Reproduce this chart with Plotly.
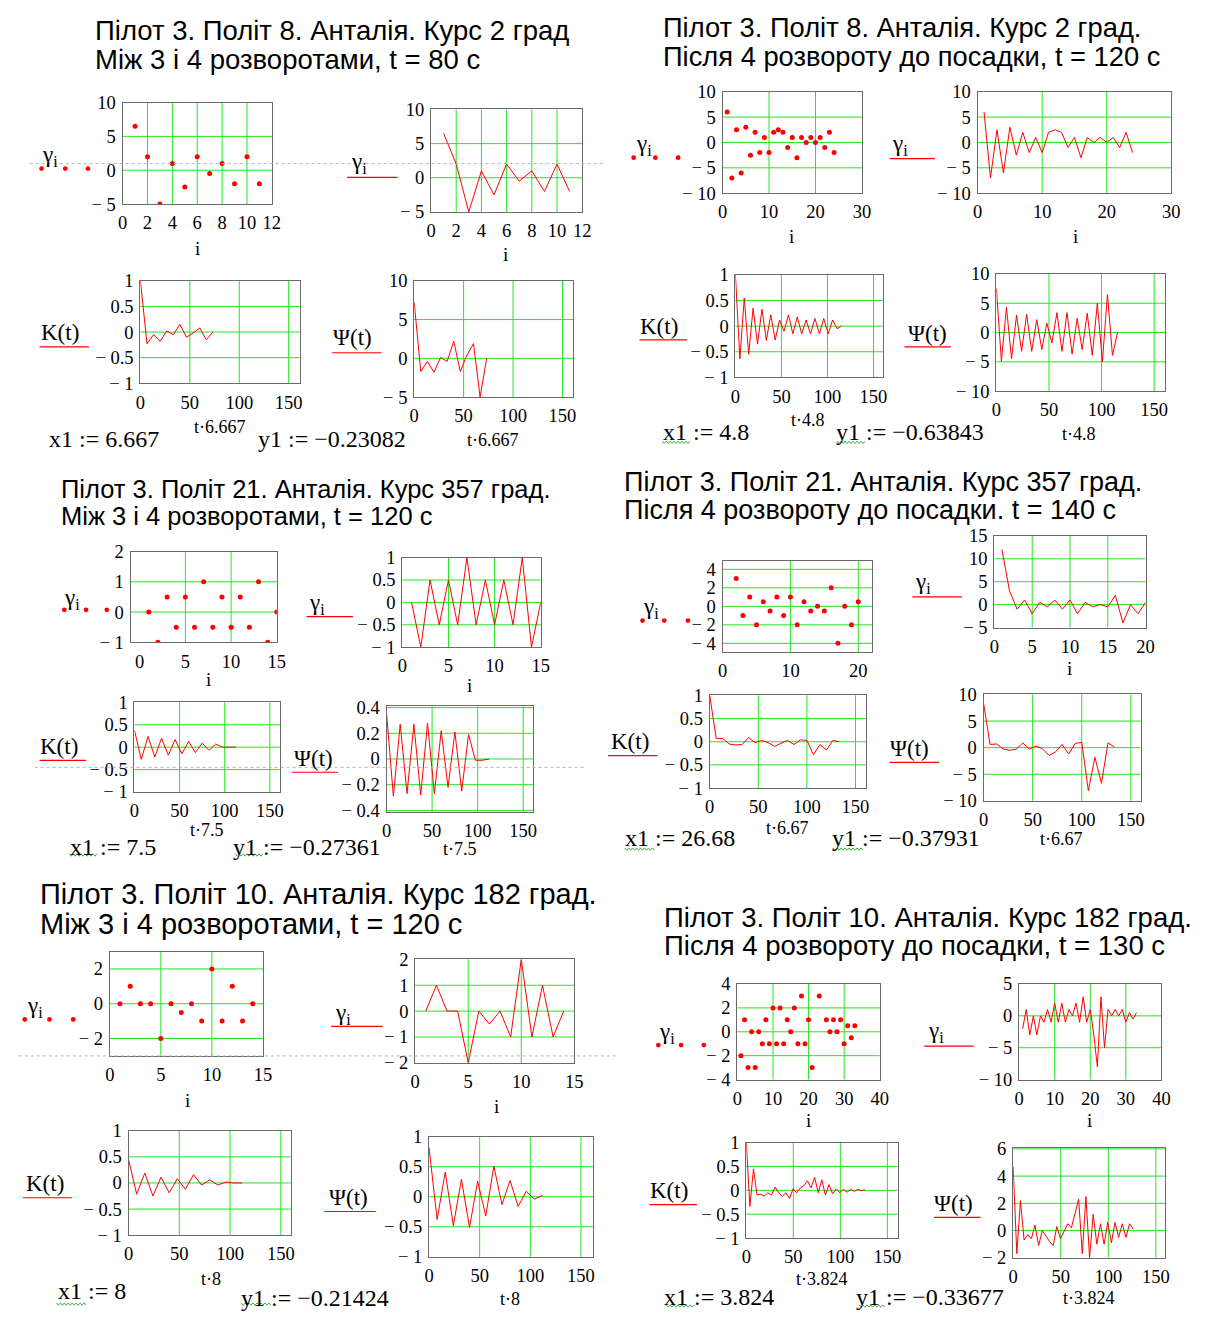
import plotly.graph_objects as go

# ---------------- values ----------------
# Flight 8, course 2 deg, between turns 3 and 4 (t = 80 s)
g_f8a = [6.5, 2, -5, 1, -2.5, 2, -0.5, 1, -2, 2, -2]
k_f8a = [1, -0.23082, -0.05, -0.18, 0.02, -0.05, 0.15, -0.1, -0.02, 0.08, -0.15, 0.0]
psi_f8a = [7.2, -1.7, -0.4, -1.8, 0.1, -0.4, 2.2, -1.7, 0.4, 1.9, -5.0, 0.0]

# Flight 8, course 2 deg, after turn 4 to landing (t = 120 s)
g_f8b = [6, -7, 2.5, -6, 3, -2.5, 2, -2, 1, -2, 2, 2.5, 2, -1, 1, -3, 1, 0, 1, 0, 1, -1, 2, -2]
k_f8b = [1, -0.63843, 0.55, -0.55, 0.35, -0.35, 0.33, -0.28, 0.22, -0.27, 0.12, -0.1, 0.22,
         -0.15, 0.18, -0.15, 0.12, -0.15, 0.15, -0.15, 0.15, -0.15, 0.12, -0.05, 0.0]
psi_f8b = [7.5, -4.9, 4.3, -4.5, 3, -3.2, 3.1, -3.2, 2.2, -2.9, 1.6, -1.8, 3.4, -3.2, 3.4,
           -3.7, 2.4, -2.9, 3.3, -3.9, 5, -5, 6.5, -3.9, 0]

# Flight 21, course 357 deg, between turns 3 and 4 (t = 120 s)
g_f21a = [0, -1, 0.5, -0.5, 0.5, -0.5, 1, -0.5, 0.5, -0.5, 0.5, -0.5, 1, -1, 0]
k_f21a = [0.38, -0.27361, 0.24, -0.22, 0.2, -0.18, 0.17, -0.15, 0.13, -0.12, 0.09, -0.07,
          0.07, 0.0, 0.0, 0.0]
psi_f21a = [0.36, -0.29, 0.27, -0.27, 0.27, -0.28, 0.28, -0.27, 0.22, -0.22, 0.21, -0.25,
            0.19, -0.01, -0.01, 0.0]

# Flight 21, course 357 deg, after turn 4 to landing (t = 140 s)
g_f21b = [12, 3, -1, 1, -2, 0.5, -0.5, 1, -1, 1, -2, 0.5, -0.5, 0, -0.5, 2, -4, 0, -2, 0.5]
k_f21b = [1, 0.07, 0.07, -0.05, -0.07, -0.06, 0.09, -0.02, 0.03, -0.02, -0.1, -0.04, 0.03,
          -0.06, 0.04, 0.03, -0.28, -0.06, -0.18, 0.03, 0.0]
psi_f21b = [8.4, 0.6, 0.7, -0.25, -0.5, -0.3, 0.9, -0.25, 0.3, -0.2, -1.45, -0.8, 0.6, -1.2,
            0.8, 1.0, -8.1, -1.8, -6.7, 0.9, 0.1]

# Flight 10, course 182 deg, between turns 3 and 4 (t = 120 s)
g_f10a = [0, 1, 0, 0, -2, 0, -0.5, 0, -1, 2, -1, 1, -1, 0]
k_f10a = [0.45, -0.21424, 0.19, -0.25, 0.11, -0.19, 0.08, -0.12, 0.16, -0.04, 0.06, -0.04,
          0.02, 0.0, 0.0]
psi_f10a = [0.82, -0.38, 0.41, -0.48, 0.29, -0.51, 0.26, -0.32, 0.51, -0.13, 0.27, -0.16,
            0.09, -0.04, 0.02]

# Flight 10, course 182 deg, after turn 4 to landing (t = 130 s)
g_f10b = [-2, 1, -3, 0, -3, 0, -1, 1, -1, 2, -1, 2, -1, 1, 0, 2, -1, 3, -1, 1, -3, -8, 3, -5,
          1, 0, 1, 0, 1, -1, 0.5, -0.5, 0.5]
k_f10b = [1, -0.33677, 0.45, -0.1, -0.08, -0.12, -0.05, -0.1, 0.07, -0.05, -0.13, -0.05, -0.17,
          0.03, -0.05, 0.05, 0.1, 0.2, 0.05, 0.27, -0.05, 0.22, -0.1, 0.12, -0.07, 0.03, -0.05,
          0.02, -0.04, 0.02, -0.02, 0.02, -0.01, 0.01]
psi_f10b = [4.7, -1.7, 2.2, -0.7, -0.3, -0.6, 0.4, -1.1, 0.0, -0.4, -0.8, -1.1, 0.3, -0.6, 0.0,
            0.5, 0.2, 1.2, 2.3, -1.7, 2.5, -2.0, 1.2, -1.0, 0.5, -1.0, 0.6, -0.9, 0.6, -0.5,
            0.5, -0.5, 0.5, 0.1]

# time steps (s) and the x1 / y1 readouts
dt_vals = [6.667, 4.8, 7.5, 6.67, 8, 3.824]
dt_text = ["6.667", "4.8", "7.5", "6.67", "8", "3.824"]
x1_text = ["6.667", "4.8", "7.5", "26.68", "8", "3.824"]
y1_text = ["\u22120.23082", "\u22120.63843", "\u22120.27361", "\u22120.37931", "\u22120.21424",
           "\u22120.33677"]

titles = [
    ("Пілот 3. Політ 8. Анталія. Курс 2 град", "Між 3 і 4 розворотами, t = 80 с"),
    ("Пілот 3. Політ 8. Анталія. Курс 2 град.", "Після 4 розвороту до посадки, t = 120 с"),
    ("Пілот 3. Політ 21. Анталія. Курс 357 град.", "Між 3 і 4 розворотами, t = 120 с"),
    ("Пілот 3. Політ 21. Анталія. Курс 357 град.", "Після 4 розвороту до посадки. t = 140 с"),
    ("Пілот 3. Політ 10. Анталія. Курс 182 град.", "Між 3 і 4 розворотами, t = 120 с"),
    ("Пілот 3. Політ 10. Анталія. Курс 182 град.", "Після 4 розвороту до посадки, t = 130 с"),
]
series = [
    (g_f8a, k_f8a, psi_f8a), (g_f8b, k_f8b, psi_f8b),
    (g_f21a, k_f21a, psi_f21a), (g_f21b, k_f21b, psi_f21b),
    (g_f10a, k_f10a, psi_f10a), (g_f10b, k_f10b, psi_f10b),
]

# ---------------- page geometry (pixels) ----------------
W, H = 1207, 1320
GRID = "#22e622"
FRAME = "#6b6b6b"
RED = "#ff0000"
SERIF = "Liberation Serif"
SANS = "Liberation Sans"
TICK = 18.5
LBL = 23

T150 = [0, 50, 100, 150]
K_Y = [-1, -0.5, 0, 0.5, 1]

# per segment: title pos/size, four plot frames with ranges, legend/label spots
geo = [
    dict(title=(90, 21, 50, 27.5),
         a=dict(box=(119, 270, 94, 197), xr=[0, 12], xt=[0, 2, 4, 6, 8, 10, 12], yr=[-5, 10], yt=[-5, 0, 5, 10]),
         b=dict(box=(431, 584, 101, 205), xr=[0, 12], xt=[0, 2, 4, 6, 8, 10, 12], yr=[-5, 10], yt=[-5, 0, 5, 10]),
         c=dict(box=(137, 298, 275, 379), xr=[0, 161], xt=T150, yr=[-1, 1], yt=K_Y),
         d=dict(box=(414, 575, 275, 393), xr=[0, 161], xt=T150, yr=[-5, 10], yt=[-5, 0, 5, 10]),
         gl_a=(46, 148, 161, [37, 61, 84]), gl_b=(358, 155, 170, 346, 397),
         i_a=(195, 242), i_b=(506, 248),
         kl=(56, 327, 342, 35, 85), pl=(352, 333, 348, 331, 381),
         tc=(218, 423), td=(494, 437),
         x1=(43, 436), y1=(255, 436), squig=None),
    dict(title=(665, 18, 47, 27.3),
         a=dict(box=(726, 867, 83, 186), xr=[0, 30], xt=[0, 10, 20, 30], yr=[-10, 10], yt=[-10, -5, 0, 5, 10]),
         b=dict(box=(984, 1180, 83, 186), xr=[0, 30], xt=[0, 10, 20, 30], yr=[-10, 10], yt=[-10, -5, 0, 5, 10]),
         c=dict(box=(739, 888, 269, 373), xr=[0, 160], xt=T150, yr=[-1, 1], yt=K_Y),
         d=dict(box=(1003, 1174, 268, 387), xr=[0, 160.7], xt=T150, yr=[-10, 10], yt=[-10, -5, 0, 5, 10]),
         gl_a=(646, 137, 150, [636, 658, 681]), gl_b=(905, 137, 151, 895, 941),
         i_a=(796, 230), i_b=(1083, 230),
         kl=(662, 321, 335, 642, 690), pl=(933, 328, 342, 910, 957),
         tc=(812, 416), td=(1087, 431),
         x1=(665, 428), y1=(840, 428), squig=((665, 693), (842, 870), 439)),
    dict(title=(56, 486, 514, 25.5),
         a=dict(box=(127, 275, 550, 642), xr=[-1, 15], xt=[0, 5, 10, 15], xg=[5, 10], yr=[-1, 2], yt=[-1, 0, 1, 2]),
         b=dict(box=(402, 542, 556, 647), xr=[0, 15], xt=[0, 5, 10, 15], yr=[-1, 1], yt=K_Y),
         c=dict(box=(131, 278, 703, 794), xr=[0, 161], xt=T150, yr=[-1, 1], yt=K_Y),
         d=dict(box=(386, 534, 707, 814), xr=[0, 160.5], xt=T150, yr=[-0.41, 0.41], yt=[-0.4, -0.2, 0, 0.2, 0.4]),
         gl_a=(68, 598, 609, [60, 82, 103]), gl_b=(316, 603, 616, 305, 352),
         i_a=(206, 680), i_b=(470, 686),
         kl=(55, 748, 762, 35, 82), pl=(312, 760, 774, 290, 337),
         tc=(204, 833), td=(460, 852),
         x1=(65, 850), y1=(230, 850), squig=((65, 94), (233, 262), 858)),
    dict(title=(625, 479, 508, 27),
         a=dict(box=(726, 877, 559, 652), xr=[0, 22], xt=[0, 10, 20], yr=[-4.95, 4.95], yt=[-4, -2, 0, 2, 4]),
         b=dict(box=(1001, 1154, 534, 627), xr=[0, 20], xt=[0, 5, 10, 15, 20], yr=[-5, 15], yt=[-5, 0, 5, 10, 15]),
         c=dict(box=(713, 871, 696, 790), xr=[0, 160.7], xt=T150, yr=[-1, 1], yt=K_Y),
         d=dict(box=(990, 1149, 695, 803), xr=[0, 160], xt=T150, yr=[-10, 10], yt=[-10, -5, 0, 5, 10]),
         gl_a=(654, 607, 620, [645, 667, 691]), gl_b=(929, 582, 596, 918, 968),
         i_a=None, i_b=(1077, 669),
         kl=(632, 743, 757, 610, 660), pl=(915, 750, 764, 895, 945),
         tc=(792, 831), td=(1069, 842),
         x1=(626, 841), y1=(836, 841), squig=((627, 658), (838, 868), 852)),
    dict(title=(34, 898, 928, 29),
         a=dict(box=(106, 261, 956, 1062), xr=[0, 15], xt=[0, 5, 10, 15], yr=[-3, 3], yt=[-2, 0, 2]),
         b=dict(box=(415, 576, 964, 1069), xr=[0, 15], xt=[0, 5, 10, 15], yr=[-2, 2], yt=[-2, -1, 0, 1, 2]),
         c=dict(box=(125, 289, 1138, 1244), xr=[0, 159.7], xt=T150, yr=[-1, 1], yt=K_Y),
         d=dict(box=(429, 595, 1144, 1266), xr=[0, 162], xt=T150, yr=[-1, 1], yt=K_Y),
         gl_a=(30, 1012, 1025, [20, 45, 69]), gl_b=(342, 1019, 1032, 330, 382),
         i_a=(185, 1107), i_b=(497, 1113),
         kl=(40, 1192, 1206, 18, 68), pl=(348, 1206, 1220, 323, 375),
         tc=(208, 1289), td=(511, 1309),
         x1=(53, 1301), y1=(238, 1308), squig=((52, 83), (239, 270), 1314)),
    dict(title=(666, 921, 950, 27.5),
         a=dict(box=(741, 885, 989, 1086), xr=[0, 40], xt=[0, 10, 20, 30, 40], yr=[-4, 4], yt=[-4, -2, 0, 2, 4]),
         b=dict(box=(1026, 1170, 989, 1086), xr=[0, 40], xt=[0, 10, 20, 30, 40], yr=[-10, 5], yt=[-10, -5, 0, 5]),
         c=dict(box=(750, 903, 1150, 1247), xr=[0, 160.8], xt=T150, yr=[-1, 1], yt=K_Y),
         d=dict(box=(1020, 1174, 1155, 1267), xr=[0, 160], xt=T150, yr=[-2, 6.1], yt=[-2, 0, 2, 4, 6]),
         gl_a=(670, 1039, 1051, [661, 684, 707]), gl_b=(942, 1038, 1052, 930, 980),
         i_a=(813, 1128), i_b=(1097, 1128),
         kl=(672, 1199, 1213, 652, 700), pl=(960, 1212, 1226, 940, 987),
         tc=(827, 1289), td=(1097, 1308),
         x1=(666, 1307), y1=(860, 1307), squig=((669, 697), (864, 891), 1316)),
]

separators = [(25, 605, 156), (30, 587, 769), (14, 620, 1062)]


def px(x):
    return x / W


def py(y):
    return 1 - y / H


def tick_text(v):
    s = f"{abs(v):g}"
    return "\u2212 " + s if v < 0 else s


fig = go.Figure()
layout = {}
shapes = []
annotations = []
counter = [0]


def add_plot(spec, xs, ys, mode):
    counter[0] += 1
    n = counter[0]
    sfx = "" if n == 1 else str(n)
    x0, x1, ytop, ybot = spec["box"]
    xr, yr, xt, yt = spec["xr"], spec["yr"], spec["xt"], spec["yt"]
    xg = spec.get("xg", [v for v in xt if xr[0] < v < xr[1]])
    yg = [v for v in yt if yr[0] < v < yr[1]]
    common = dict(showgrid=False, zeroline=False, showline=True, mirror=True,
                  linecolor=FRAME, linewidth=1.2, ticks="", tickmode="array",
                  tickfont=dict(family=SERIF, size=TICK, color="black"),
                  ticklabelstandoff=2, fixedrange=True)
    layout["xaxis" + sfx] = dict(common, domain=[px(x0), px(x1)], range=xr, anchor="y" + sfx,
                                 tickvals=xt, ticktext=[tick_text(v) for v in xt])
    layout["yaxis" + sfx] = dict(common, domain=[py(ybot), py(ytop)], range=yr, anchor="x" + sfx,
                                 tickvals=yt, ticktext=[tick_text(v) for v in yt])
    for v in xg:
        shapes.append(dict(type="line", xref="x" + sfx, yref="y" + sfx + " domain",
                           x0=v, x1=v, y0=0, y1=1, layer="below",
                           line=dict(color=GRID, width=1)))
    for v in yg:
        shapes.append(dict(type="line", xref="x" + sfx + " domain", yref="y" + sfx,
                           x0=0, x1=1, y0=v, y1=v, layer="below",
                           line=dict(color=GRID, width=1)))
    if mode == "markers":
        fig.add_trace(go.Scatter(x=xs, y=ys, mode="markers", xaxis="x" + sfx, yaxis="y" + sfx,
                                 marker=dict(color=RED, size=5), showlegend=False, hoverinfo="skip"))
    else:
        fig.add_trace(go.Scatter(x=xs, y=ys, mode="lines", xaxis="x" + sfx, yaxis="y" + sfx,
                                 line=dict(color=RED, width=1), showlegend=False, hoverinfo="skip"))


def text(x, y, s, size, family=SERIF, xanchor="center"):
    annotations.append(dict(x=px(x), y=py(y), xref="paper", yref="paper", text=s,
                            showarrow=False, xanchor=xanchor, yanchor="middle", borderpad=0,
                            font=dict(family=family, size=size, color="black")))


def red_rule(y, xa, xb):
    shapes.append(dict(type="line", xref="paper", yref="paper", x0=px(xa), x1=px(xb),
                       y0=py(y), y1=py(y), line=dict(color=RED, width=1.2)))


def dot(cx, cy, r=2.4):
    shapes.append(dict(type="circle", xref="paper", yref="paper", x0=px(cx - r), x1=px(cx + r),
                       y0=py(cy + r), y1=py(cy - r), fillcolor=RED, line=dict(width=0)))


def squiggle(xa, xb, y):
    pts = []
    x, up = xa, True
    while x <= xb:
        pts.append(f"{px(x):.5f},{py(y - 1.2 if up else y + 1.2):.5f}")
        x += 2
        up = not up
    shapes.append(dict(type="path", xref="paper", yref="paper", path="M" + " L".join(pts),
                       line=dict(color="#3cb043", width=1)))


for g_spec, (gam, kk, ps), (t1, t2), dt, dtt, x1t, y1t in zip(
        geo, series, titles, dt_vals, dt_text, x1_text, y1_text):
    tx, ty1, ty2, tsz = g_spec["title"]
    text(tx, ty1, t1, tsz, SANS, "left")
    text(tx, ty2, t2, tsz, SANS, "left")

    idx = list(range(1, len(gam) + 1))
    lag = [j * dt for j in range(len(kk))]
    add_plot(g_spec["a"], idx, gam, "markers")
    add_plot(g_spec["b"], idx, gam, "lines")
    add_plot(g_spec["c"], lag, kk, "lines")
    add_plot(g_spec["d"], lag, ps, "lines")

    gx, gy, dy, dxs = g_spec["gl_a"]
    text(gx, gy, "γ<sub>i</sub>", LBL)
    for d in dxs:
        dot(d, dy)
    gx, gy, ry, ra, rb = g_spec["gl_b"]
    text(gx, gy, "γ<sub>i</sub>", LBL)
    red_rule(ry, ra, rb)

    if g_spec["i_a"]:
        text(*g_spec["i_a"], "i", 19)
    text(*g_spec["i_b"], "i", 19)

    lx, ly, ry, ra, rb = g_spec["kl"]
    text(lx, ly, "K(t)", LBL)
    red_rule(ry, ra, rb)
    lx, ly, ry, ra, rb = g_spec["pl"]
    text(lx, ly, "Ψ(t)", LBL)
    red_rule(ry, ra, rb)

    text(*g_spec["tc"], "t·" + dtt, 18)
    text(*g_spec["td"], "t·" + dtt, 18)
    text(g_spec["x1"][0], g_spec["x1"][1], "x1 := " + x1t, 24, SERIF, "left")
    text(g_spec["y1"][0], g_spec["y1"][1], "y1 := " + y1t, 24, SERIF, "left")
    if g_spec["squig"]:
        (xa, xb), (ya, yb), sy = g_spec["squig"]
        squiggle(xa, xb, sy)
        squiggle(ya, yb, sy)

for xa, xb, y in separators:
    shapes.append(dict(type="line", xref="paper", yref="paper", x0=px(xa), x1=px(xb),
                       y0=py(y), y1=py(y), layer="above",
                       line=dict(color="#b4b4b4", width=1, dash="dot")))

fig.update_layout(width=W, height=H, margin=dict(l=0, r=0, t=0, b=0),
                  paper_bgcolor="white", plot_bgcolor="white", showlegend=False,
                  shapes=shapes, annotations=annotations, **layout)
fig.write_html("out.html", config={"displayModeBar": False},
               post_script="document.body.style.margin='0';")
